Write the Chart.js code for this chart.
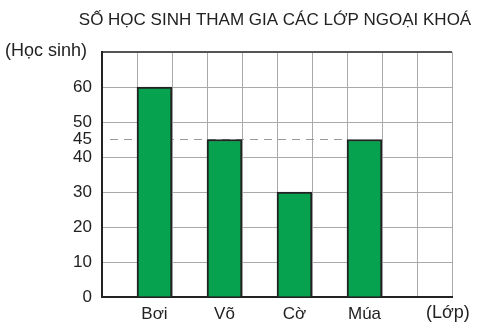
<!DOCTYPE html>
<html>
<head>
<meta charset="utf-8">
<script src="https://cdn.jsdelivr.net/npm/chart.js@4"></script>
<style>
  body { margin: 0; background: #fff; }
</style>
</head>
<body>
<canvas id="myChart" width="489" height="331"></canvas>
<script>
var title = 'SỐ HỌC SINH THAM GIA CÁC LỚP NGOẠI KHOÁ';
var yTitle = '(Học sinh)';
var xTitle = '(Lớp)';
var categories = ['Bơi', 'Võ', 'Cờ', 'Múa'];
var values = [60, 45, 30, 45];
var yTicks = [0, 10, 20, 30, 40, 45, 50, 60, 70];
var markValue = 45;

// 10 grid columns, bars sit in every other column
var slots = 10;
var labels = [];
var slotData = [];
for (var i = 0; i < slots; i++) {
  labels.push('');
  slotData.push(null);
}
categories.forEach(function (c, i) {
  labels[2 * i + 1] = c;
  slotData[2 * i + 1] = values[i];
});

var font = "'Liberation Sans', Arial, sans-serif";

var extras = {
  id: 'extras',
  beforeDatasetsDraw: function (chart) {
    var ctx = chart.ctx, area = chart.chartArea;
    var y = chart.scales.y.getPixelForValue(markValue);
    var meta = chart.getDatasetMeta(0);
    var lastIdx = slotData.lastIndexOf(markValue);
    var bar = meta.data[lastIdx];
    ctx.save();
    ctx.strokeStyle = '#999';
    ctx.lineWidth = 1;
    ctx.setLineDash([8, 6]);
    ctx.beginPath();
    ctx.moveTo(area.left + 8, y);
    ctx.lineTo(bar.x - bar.width / 2, y);
    ctx.stroke();
    ctx.restore();
  },
  afterDraw: function (chart) {
    var ctx = chart.ctx, area = chart.chartArea;
    ctx.save();
    ctx.fillStyle = '#222';
    ctx.font = '17px ' + font;
    ctx.textAlign = 'center';
    ctx.textBaseline = 'middle';
    ctx.fillText(title, 275, 20);
    ctx.font = '18px ' + font;
    ctx.textAlign = 'left';
    ctx.fillText(yTitle, 5, 51);
    ctx.fillText(xTitle, area.right - 26, 313);
    ctx.restore();
  }
};

new Chart(document.getElementById('myChart'), {
  type: 'bar',
  data: {
    labels: labels,
    datasets: [{
      data: slotData,
      backgroundColor: '#07a24f',
      borderColor: '#222',
      borderWidth: 2,
      barPercentage: 1,
      categoryPercentage: 1
    }]
  },
  options: {
    responsive: false,
    animation: false,
    layout: { padding: { top: 52, right: 37, left: 0, bottom: 0 } },
    plugins: { legend: { display: false }, tooltip: { enabled: false } },
    scales: {
      x: {
        offset: true,
        afterFit: function (s) { s.height = 34; },
        grid: {
          offset: true,
          drawTicks: false,
          color: function (c) { return c.index === slots ? '#555' : '#aaa'; },
          lineWidth: function (c) { return c.index === slots ? 2 : 1; }
        },
        border: { display: true, color: '#222', width: 2 },
        ticks: {
          color: '#222',
          padding: 7,
          maxRotation: 0,
          minRotation: 0,
          autoSkip: false,
          font: { size: 17, family: font }
        }
      },
      y: {
        min: 0,
        max: 70,
        afterFit: function (s) { s.width = 102; },
        afterBuildTicks: function (s) {
          s.ticks = yTicks.map(function (v) { return { value: v }; });
        },
        grid: {
          drawTicks: false,
          color: function (c) {
            if (c.tick && c.tick.value === markValue) return 'rgba(0,0,0,0)';
            if (c.tick && c.tick.value === 70) return '#555';
            return '#aaa';
          },
          lineWidth: function (c) { return c.tick && c.tick.value === 70 ? 2 : 1; }
        },
        border: { display: true, color: '#222', width: 2 },
        ticks: {
          color: '#222',
          padding: 10,
          font: { size: 17, family: font },
          callback: function (v) { return v === 70 ? '' : v; }
        }
      }
    }
  },
  plugins: [extras]
});
</script>
</body>
</html>
